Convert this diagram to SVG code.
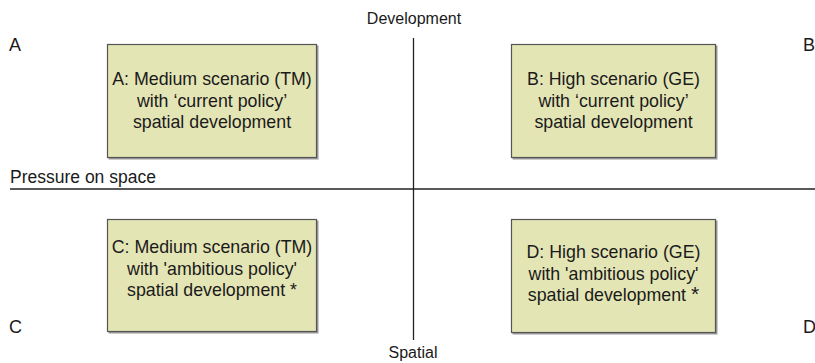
<svg xmlns="http://www.w3.org/2000/svg" width="815" height="363" viewBox="0 0 815 363">
<style>
text{font-family:"Liberation Sans",Arial,sans-serif;fill:#1a1a1a}
.lbl{font-size:16px}
.cr{font-size:18px}
.bt{font-size:17.8px;text-anchor:middle}
.box{fill:#e4e5b5;stroke:#555;stroke-width:1.2}
.shadow{fill:#999}
.ax{stroke:#222;stroke-width:1.3;fill:none}
</style>
<rect width="815" height="363" fill="#fff"/>
<g id="axes">
<line class="ax" x1="413.5" y1="38" x2="413.5" y2="340"/>
<line class="ax" x1="10" y1="189" x2="815" y2="189"/>
</g>
<g id="labels">
<text class="lbl" x="414" y="24" text-anchor="middle">Development</text>
<text class="lbl" x="413" y="358" text-anchor="middle">Spatial</text>
<text class="lbl" x="10" y="183" style="font-size:17.5px">Pressure on space</text>
<text class="cr" x="9" y="51">A</text>
<text class="cr" x="803" y="51">B</text>
<text class="cr" x="9" y="333">C</text>
<text class="cr" x="803" y="333">D</text>
</g>
<g id="nodeA">
<rect class="shadow" x="108.5" y="45.5" width="210" height="114"/>
<rect class="box" x="107.5" y="44.5" width="209" height="113"/>
<text class="bt" x="212" y="85">A: Medium scenario (TM)</text>
<text class="bt" x="212" y="106.5">with ‘current policy’</text>
<text class="bt" x="212" y="128">spatial development</text>
</g>
<g id="nodeB">
<rect class="shadow" x="512.5" y="45.5" width="205" height="114"/>
<rect class="box" x="511.5" y="44.5" width="204" height="113"/>
<text class="bt" x="613.5" y="85">B: High scenario (GE)</text>
<text class="bt" x="613.5" y="106.5">with ‘current policy’</text>
<text class="bt" x="613.5" y="128">spatial development</text>
</g>
<g id="nodeC">
<rect class="shadow" x="108.5" y="220.5" width="210" height="113"/>
<rect class="box" x="107.5" y="219.5" width="209" height="112"/>
<text class="bt" x="212" y="253">C: Medium scenario (TM)</text>
<text class="bt" x="212" y="274.5">with 'ambitious policy'</text>
<text class="bt" x="212" y="296">spatial development *</text>
</g>
<g id="nodeD">
<rect class="shadow" x="512.5" y="220.5" width="205" height="114"/>
<rect class="box" x="511.5" y="219.5" width="204" height="113"/>
<text class="bt" x="613.5" y="258">D: High scenario (GE)</text>
<text class="bt" x="613.5" y="279.5">with 'ambitious policy'</text>
<text class="bt" x="613.5" y="301">spatial development <tspan font-size="21">*</tspan></text>
</g>
</svg>
